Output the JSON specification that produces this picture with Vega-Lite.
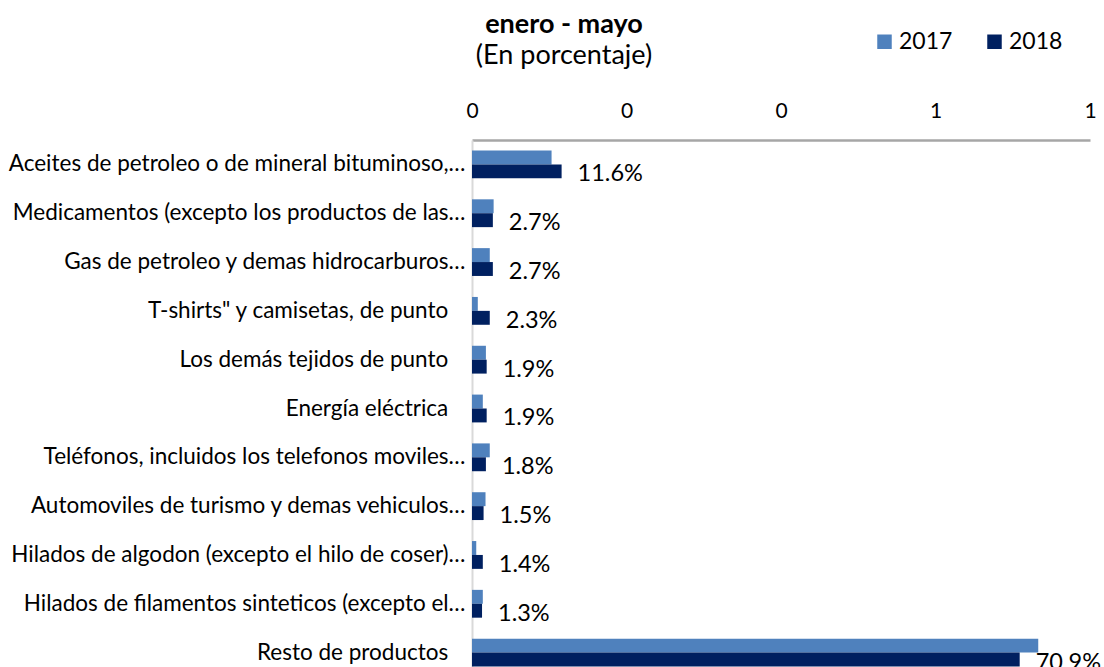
{
  "$schema": "https://vega.github.io/schema/vega-lite/v6.json",
  "autosize": "none",
  "padding": {"left": 472, "top": 140, "right": 14, "bottom": 0},
  "width": 618,
  "height": 527,
  "background": "white",
  "config": {
    "font": "Lato",
    "view": {"stroke": null},
    "axis": {"labelColor": "black", "labelFont": "Lato"},
    "legend": {"labelFont": "Lato"}
  },
  "title": {
    "text": "enero - mayo",
    "subtitle": "(En porcentaje)",
    "anchor": "start",
    "frame": "group",
    "align": "center",
    "dx": 92,
    "offset": -40,
    "fontSize": 27,
    "fontWeight": "bold",
    "color": "black",
    "subtitleFontSize": 27,
    "subtitleColor": "black",
    "subtitlePadding": 4
  },
  "data": {
    "values": [
      {"category": "Aceites de petroleo o de mineral bituminoso,…", "year": "2017", "value": 0.103},
      {"category": "Aceites de petroleo o de mineral bituminoso,…", "year": "2018", "value": 0.116},
      {"category": "Medicamentos (excepto los productos de las…", "year": "2017", "value": 0.028},
      {"category": "Medicamentos (excepto los productos de las…", "year": "2018", "value": 0.027},
      {"category": "Gas de petroleo y demas hidrocarburos…", "year": "2017", "value": 0.023},
      {"category": "Gas de petroleo y demas hidrocarburos…", "year": "2018", "value": 0.027},
      {"category": "T-shirts\" y camisetas, de punto ", "year": "2017", "value": 0.0075},
      {"category": "T-shirts\" y camisetas, de punto ", "year": "2018", "value": 0.023},
      {"category": "Los demás tejidos de punto ", "year": "2017", "value": 0.018},
      {"category": "Los demás tejidos de punto ", "year": "2018", "value": 0.019},
      {"category": "Energía eléctrica ", "year": "2017", "value": 0.014},
      {"category": "Energía eléctrica ", "year": "2018", "value": 0.019},
      {"category": "Teléfonos, incluidos los telefonos moviles…", "year": "2017", "value": 0.023},
      {"category": "Teléfonos, incluidos los telefonos moviles…", "year": "2018", "value": 0.018},
      {"category": "Automoviles de turismo y demas vehiculos…", "year": "2017", "value": 0.0175},
      {"category": "Automoviles de turismo y demas vehiculos…", "year": "2018", "value": 0.015},
      {"category": "Hilados de algodon (excepto el hilo de coser)…", "year": "2017", "value": 0.0055},
      {"category": "Hilados de algodon (excepto el hilo de coser)…", "year": "2018", "value": 0.014},
      {"category": "Hilados de filamentos sinteticos (excepto el…", "year": "2017", "value": 0.014},
      {"category": "Hilados de filamentos sinteticos (excepto el…", "year": "2018", "value": 0.013},
      {"category": "Resto de productos ", "year": "2017", "value": 0.733},
      {"category": "Resto de productos ", "year": "2018", "value": 0.709}
    ]
  },
  "encoding": {
    "y": {
      "field": "category",
      "type": "nominal",
      "sort": null,
      "scale": {"range": [0, 537], "paddingInner": 0.43, "paddingOuter": 0.215},
      "axis": {
        "title": null,
        "orient": "left",
        "ticks": false,
        "domainColor": "#d9d9d9",
        "domainWidth": 2,
        "labelFontSize": 22.5,
        "labelPadding": 7,
        "labelLimit": 700,
        "labelExpr": "indexof(datum.label, '…') < 0 ? datum.label + '\u00a0\u00a0\u2060' : datum.label"
      }
    },
    "yOffset": {"field": "year", "type": "nominal", "scale": {"paddingInner": 0}},
    "x": {
      "field": "value",
      "type": "quantitative",
      "scale": {"domain": [0, 0.8], "nice": false},
      "axis": {
        "title": null,
        "orient": "top",
        "values": [0, 0.2, 0.4, 0.6, 0.8],
        "format": ".0f",
        "ticks": false,
        "grid": false,
        "domainColor": "#a6a6a6",
        "domainWidth": 2.5,
        "labelFontSize": 21,
        "labelPadding": 19,
        "labelFlush": false,
        "labelOverlap": false
      }
    }
  },
  "layer": [
    {
      "mark": {"type": "bar"},
      "encoding": {
        "color": {
          "field": "year",
          "type": "nominal",
          "scale": {"domain": ["2017", "2018"], "range": ["#4f81bd", "#002060"]},
          "legend": {
            "title": null,
            "orient": "none",
            "legendX": 401,
            "legendY": -110,
            "padding": 0,
            "direction": "horizontal",
            "symbolType": "square",
            "symbolSize": 210,
            "symbolStrokeWidth": 0,
            "labelFontSize": 23,
            "labelColor": "black",
            "labelOffset": 3,
            "columnPadding": 30
          }
        }
      }
    },
    {
      "transform": [{"filter": "datum.year == '2018'"}],
      "mark": {"type": "text", "align": "left", "baseline": "middle", "dx": 16, "dy": 3, "fontSize": 23.5, "color": "black"},
      "encoding": {
        "text": {"field": "value", "type": "quantitative", "format": ".1%"}
      }
    }
  ]
}
